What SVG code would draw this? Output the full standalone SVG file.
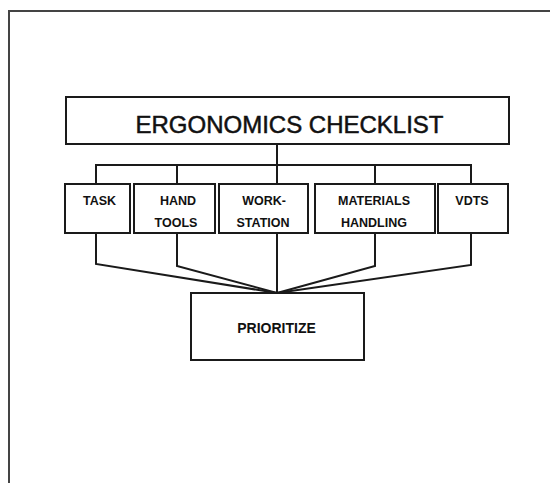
<svg xmlns="http://www.w3.org/2000/svg" width="550" height="483" viewBox="0 0 550 483">
  <style>
    .box { fill: #fff; stroke: #1a1a1a; stroke-width: 2; }
    .wire { fill: none; stroke: #1a1a1a; stroke-width: 2; stroke-linejoin: miter; }
    .frame { fill: none; stroke: #444; stroke-width: 2; }
    .title { font-family: "Liberation Sans", Arial, sans-serif; font-size: 24px; fill: #111; stroke: #111; stroke-width: 0.5; text-anchor: middle; }
    .label { font-family: "Liberation Sans", Arial, sans-serif; font-size: 12.5px; font-weight: bold; fill: #111; text-anchor: middle; }
    .big { font-family: "Liberation Sans", Arial, sans-serif; font-size: 14px; font-weight: bold; fill: #111; text-anchor: middle; }
  </style>
  <rect width="550" height="483" fill="#fff"/>

  <!-- page frame (top and left edges only) -->
  <path class="frame" d="M9,483 V11 H550"/>

  <g id="connectors">
    <!-- checklist to category bus -->
    <path class="wire" d="M277,144 V184"/>
    <path class="wire" d="M96,184 V165 H471 V184"/>
    <path class="wire" d="M177,165 V184"/>
    <path class="wire" d="M375,165 V184"/>
    <!-- categories converging on prioritize -->
    <path class="wire" d="M96,233 V264 L277,293"/>
    <path class="wire" d="M177,233 V266 L277,293"/>
    <path class="wire" d="M277,233 V293"/>
    <path class="wire" d="M375,233 V266 L277,293"/>
    <path class="wire" d="M471,233 V265 L277,293"/>
  </g>

  <g id="checklist">
    <rect class="box" x="66" y="97" width="443" height="47"/>
    <text class="title" x="289.5" y="132.5">ERGONOMICS CHECKLIST</text>
  </g>

  <g id="task">
    <rect class="box" x="65" y="184" width="65" height="49"/>
    <text class="label" x="99.5" y="205">TASK</text>
  </g>

  <g id="hand-tools">
    <rect class="box" x="134" y="184" width="81" height="49"/>
    <text class="label" x="178" y="205">HAND</text>
    <text class="label" x="176" y="226.5">TOOLS</text>
  </g>

  <g id="workstation">
    <rect class="box" x="219" y="184" width="89" height="49"/>
    <text class="label" x="264" y="205">WORK-</text>
    <text class="label" x="263" y="226.5">STATION</text>
  </g>

  <g id="materials-handling">
    <rect class="box" x="315" y="184" width="120" height="49"/>
    <text class="label" x="374" y="205">MATERIALS</text>
    <text class="label" x="374" y="226.5">HANDLING</text>
  </g>

  <g id="vdts">
    <rect class="box" x="438" y="184" width="70" height="49"/>
    <text class="label" x="472" y="205">VDTS</text>
  </g>

  <g id="prioritize">
    <rect class="box" x="191" y="293" width="173" height="67"/>
    <text class="big" x="276.5" y="332.5">PRIORITIZE</text>
  </g>
</svg>
